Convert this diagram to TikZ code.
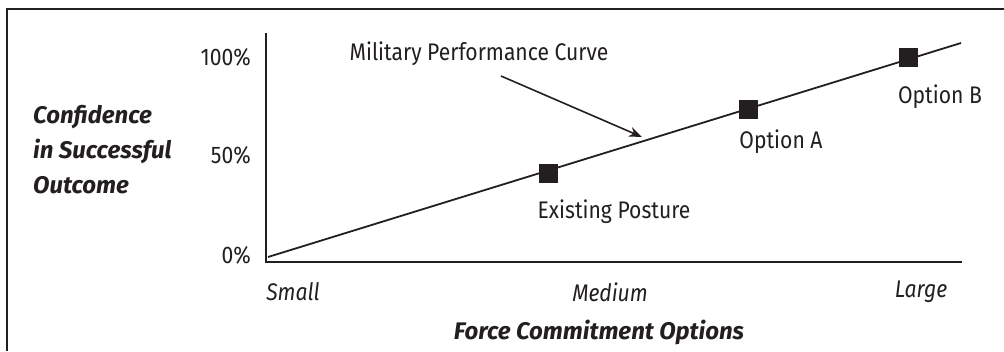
\documentclass[tikz,border=0pt]{standalone}
\usepackage{fontspec}
\setmainfont{Fira Sans}
\newfontfamily\condfont[FakeStretch=0.88]{Fira Sans}
\usetikzlibrary{arrows.meta}
\definecolor{ink}{HTML}{231F20}
\tikzset{
  lbl/.style={font=\condfont\fontsize{24}{27}\selectfont, text=ink, inner sep=0pt},
  tlbl/.style={font=\condfont\fontsize{24}{27}\selectfont, text=ink, inner sep=0pt},
  ilbl/.style={font=\condfont\fontsize{24}{27}\selectfont\itshape, text=ink, inner sep=0pt},
  blbl/.style={font=\fontsize{24}{35}\selectfont\bfseries\itshape, text=ink, inner sep=0pt},
  marker/.style={rectangle, fill=ink, minimum size=19pt, inner sep=0pt},
  axisline/.style={draw=ink, line width=2pt},
  curveline/.style={draw=ink, line width=1.8pt},
}
\begin{document}
\begin{tikzpicture}[x=1pt, y=-1pt]
\useasboundingbox (0,0) rectangle (1004,351);
\fill[white] (0,0) rectangle (1004,351);
% frame (cut at right and bottom)
\draw[draw=ink, line width=2.5pt] (7,351) -- (7,9) -- (1004,9);
% axes
\coordinate (ytop) at (266,33);
\coordinate (origin) at (266,262);
\coordinate (xend) at (962,262);
\draw[axisline] (ytop) -- (origin) -- (xend);
% tick labels
\node[tlbl, anchor=east] (p100) at (251,57) {100\%};
\node[tlbl, anchor=east] (p50) at (251,155) {50\%};
\node[tlbl, anchor=east] (p0) at (251,255) {0\%};
% curve
\coordinate (cstart) at (268,257);
\coordinate (cend) at (961,43);
\draw[curveline] (cstart) -- (cend);
\node[marker] (existing) at (548,173) {};
\node[marker] (optA) at (748,109) {};
\node[marker] (optB) at (908,57) {};
% marker labels
\node[lbl] (existingl) at (614,212) {Existing Posture};
\node[lbl] (optAl) at (781,142) {Option A};
\node[lbl] (optBl) at (940,97) {Option B};
% callout
\node[lbl] (mpc) at (479,54) {Military Performance Curve};
\coordinate (arrs) at (501,76);
\coordinate (arre) at (642,137);
\draw[draw=ink, line width=1.6pt, -{Stealth[length=13pt, width=10pt]}] (arrs) -- (arre);
% x tick labels
\node[ilbl] (small) at (293,292) {Small};
\node[ilbl] (medium) at (610,292) {Medium};
\node[ilbl] (large) at (921,292) {Large};
% axis titles
\node[blbl] (xtitle) at (599,332) {Force Commitment Options};
\node[blbl, anchor=west, align=left] (ytitle) at (33,150) {Confidence\\in Successful\\Outcome};
\end{tikzpicture}
\end{document}
